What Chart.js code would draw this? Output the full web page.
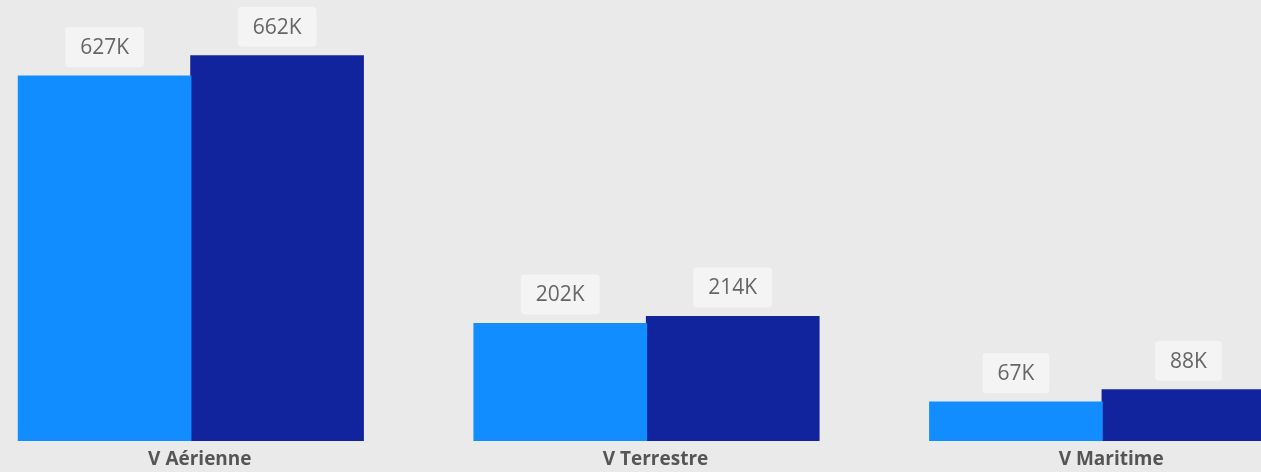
<!DOCTYPE html>
<html>
<head>
<meta charset="utf-8">
<script src="https://cdn.jsdelivr.net/npm/chart.js@4"></script>
<style>
  html, body { margin: 0; padding: 0; background: #eaeaea; }
  #wrap { position: relative; width: 1261px; height: 472px; overflow: hidden; background: #eaeaea; }
  #c { position: absolute; left: -37px; top: 0; }
</style>
</head>
<body>
<div id="wrap"><canvas id="c" width="1367" height="472"></canvas></div>
<script>
const categories = ['V Aérienne', 'V Terrestre', 'V Maritime'];
const seriesA = [627000, 202000, 67000];
const seriesB = [662000, 214000, 88000];
const seriesNames = ['Série 1', 'Série 2'];

function fmtK(v) { return Math.round(v / 1000) + 'K'; }

const labelPlugin = {
  id: 'boxLabels',
  afterDatasetsDraw(chart) {
    const ctx = chart.ctx;
    ctx.save();
    ctx.font = '21px "Open Sans", sans-serif';
    ctx.textAlign = 'center';
    ctx.textBaseline = 'middle';
    chart.data.datasets.forEach((ds, di) => {
      const meta = chart.getDatasetMeta(di);
      meta.data.forEach((bar, i) => {
        const txt = fmtK(ds.data[i]);
        const w = ctx.measureText(txt).width + 30;
        const h = 40;
        const cy = bar.y - 29;
        ctx.fillStyle = '#f4f4f4';
        ctx.beginPath();
        ctx.roundRect(bar.x - w / 2, cy - h / 2, w, h, 4);
        ctx.fill();
        ctx.fillStyle = '#666666';
        ctx.fillText(txt, bar.x, cy + 1);
      });
    });
    ctx.restore();
  }
};

new Chart(document.getElementById('c'), {
  type: 'bar',
  data: {
    labels: categories,
    datasets: [
      { label: seriesNames[0], data: seriesA, backgroundColor: '#118DFF', borderWidth: 0, inflateAmount: 0.6 },
      { label: seriesNames[1], data: seriesB, backgroundColor: '#12239E', borderWidth: 0, inflateAmount: 0.6 }
    ]
  },
  options: {
    responsive: false,
    animation: false,
    devicePixelRatio: 1,
    layout: { padding: 0 },
    plugins: { legend: { display: false }, tooltip: { enabled: false } },
    datasets: { bar: { categoryPercentage: 0.757, barPercentage: 1.0 } },
    scales: {
      x: {
        grid: { display: false, drawTicks: false },
        border: { display: false },
        ticks: {
          color: '#555555',
          font: { family: '"Open Sans", sans-serif', size: 19, weight: 'bold' },
          padding: 7,
          labelOffset: 9
        },
        afterFit(scale) { scale.height = 31; }
      },
      y: {
        display: false,
        min: 0,
        max: 758000
      }
    }
  },
  plugins: [labelPlugin]
});
</script>
</body>
</html>
